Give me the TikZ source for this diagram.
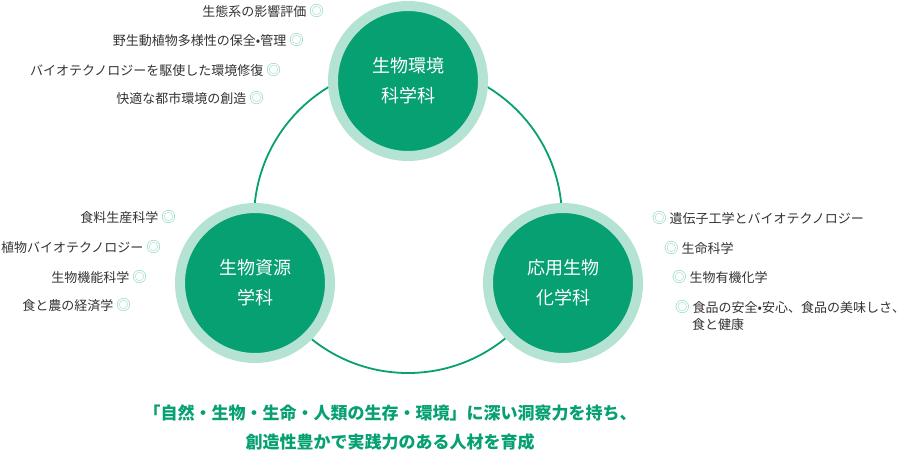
\documentclass[tikz,border=0pt]{standalone}
\usepackage{fontspec}
\setmainfont{Noto Sans CJK JP}
\usetikzlibrary{positioning}

\definecolor{deptgreen}{HTML}{06A073}
\definecolor{ringgreen}{HTML}{B4E3D4}
\definecolor{markgreen}{HTML}{7ED0B3}
\definecolor{itemgray}{HTML}{333333}

\newcommand{\mk}{{\color{markgreen}\fontsize{14.5}{18}\selectfont ◎}}
\newcommand{\markgap}{\hspace{3pt}}

\begin{document}
\begin{tikzpicture}[x=1pt, y=-1pt,
  dept/.style={circle, fill=deptgreen, draw=ringgreen, line width=10pt,
    minimum size=150pt, inner sep=0pt, text=white, align=center,
    font=\fontsize{18}{30}\selectfont},
  item/.style={inner sep=0pt, text=itemgray, font=\fontsize{13}{18}\selectfont},
  motto/.style={inner sep=0pt, text=deptgreen, font=\bfseries\fontsize{17}{20}\selectfont}]

\useasboundingbox (0,0) rectangle (904,455);

% Ring joining the three departments
\coordinate (hub) at (408,219);
\draw[deptgreen, line width=1.8pt] (hub) circle (154pt);

% Departments
\node[dept] (env) at (408,81)  {生物環境\\科学科};
\node[dept] (res) at (255,283) {生物資源\\学科};
\node[dept] (chem) at (563,283) {応用生物\\化学科};

% Topics of the environment department
\node[item, anchor=east] (env1) at (324,11)  {生態系の影響評価\markgap\mk};
\node[item, anchor=east] (env2) at (304,40)  {野生動植物多様性の保全•管理\markgap\mk};
\node[item, anchor=east] (env3) at (281,70)  {バイオテクノロジーを駆使した環境修復\markgap\mk};
\node[item, anchor=east] (env4) at (264,98)  {快適な都市環境の創造\markgap\mk};

% Topics of the resources department
\node[item, anchor=east] (res1) at (176,217) {食料生産科学\markgap\mk};
\node[item, anchor=east] (res2) at (161,247) {植物バイオテクノロジー\markgap\mk};
\node[item, anchor=east] (res3) at (147,277) {生物機能科学\markgap\mk};
\node[item, anchor=east] (res4) at (131,305) {食と農の経済学\markgap\mk};

% Topics of the chemistry department
\node[item, anchor=west] (chem1) at (652,218) {\mk\markgap 遺伝子工学とバイオテクノロジー};
\node[item, anchor=west] (chem2) at (664,248) {\mk\markgap 生命科学};
\node[item, anchor=west] (chem3) at (672,277) {\mk\markgap 生物有機化学};
\node[item, anchor=west] (chem4) at (675,307) {\mk\markgap 食品の安全•安心、食品の美味しさ\makebox[0.35em][l]{、}};
\node[item, anchor=west] (chem5) at (692,325) {食と健康};

% Motto
\node[motto] (motto1) at (390,413) {「自然・生物・生命・人類の生存・環境」に深い洞察力を持ち、};
\node[motto] (motto2) at (390,442) {創造性豊かで実践力のある人材を育成};

\end{tikzpicture}
\end{document}
